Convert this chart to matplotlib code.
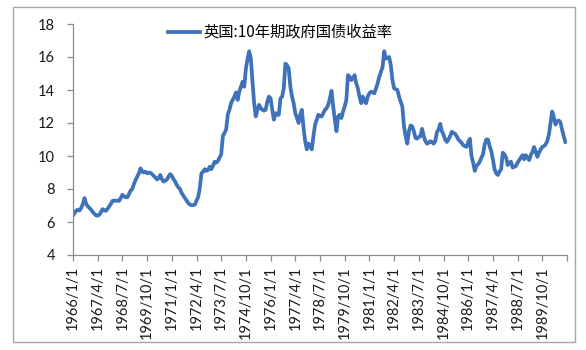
import matplotlib
matplotlib.use("Agg")
import matplotlib.pyplot as plt
from matplotlib.patches import Rectangle
import pandas as pd

plt.rcParams['font.family'] = ['Lato', 'Noto Sans CJK SC', 'DejaVu Sans']

series_name = '英国:10年期政府国债收益率'
start_month = '1966-01-01'

# monthly yields (%), one row per year
y1966 = [6.4, 6.55, 6.7, 6.75, 6.7, 6.85, 7.1, 7.45, 7.1, 6.95, 6.85, 6.75]
y1967 = [6.6, 6.5, 6.4, 6.38, 6.45, 6.6, 6.78, 6.7, 6.68, 6.8, 6.95, 7.1]
y1968 = [7.28, 7.3, 7.28, 7.3, 7.28, 7.45, 7.65, 7.55, 7.5, 7.5, 7.7, 7.9]
y1969 = [8.0, 8.3, 8.55, 8.75, 8.95, 9.25, 9.05, 9.0, 9.05, 8.95, 9.0, 8.98]
y1970 = [8.9, 8.8, 8.7, 8.58, 8.65, 8.85, 8.6, 8.45, 8.5, 8.58, 8.75, 8.9]
y1971 = [8.8, 8.6, 8.45, 8.25, 8.1, 8.0, 7.75, 7.6, 7.45, 7.3, 7.15, 7.05]
y1972 = [7.02, 7.03, 7.05, 7.3, 7.5, 8.05, 8.95, 9.05, 9.2, 9.1, 9.15, 9.35]
y1973 = [9.2, 9.4, 9.65, 9.6, 9.7, 9.9, 10.1, 11.2, 11.4, 11.6, 12.5, 12.8]
y1974 = [13.2, 13.4, 13.6, 13.85, 13.4, 13.9, 14.2, 14.5, 14.2, 15.3, 15.9, 16.35]
y1975 = [15.9, 14.5, 13.2, 12.4, 12.8, 13.1, 12.9, 12.8, 12.75, 12.8, 13.3, 13.6]
y1976 = [13.5, 12.8, 12.2, 12.6, 12.5, 12.5, 13.5, 13.6, 14.1, 15.6, 15.5, 15.3]
y1977 = [14.2, 13.6, 13.2, 12.6, 12.3, 12.0, 12.5, 12.8, 11.7, 10.9, 10.4, 10.75]
y1978 = [10.6, 10.4, 11.2, 11.9, 12.2, 12.5, 12.4, 12.4, 12.6, 12.8, 12.9, 13.1]
y1979 = [13.5, 13.95, 13.0, 12.2, 11.5, 12.4, 12.5, 12.3, 12.7, 13.0, 13.4, 14.9]
y1980 = [14.8, 14.6, 14.7, 14.9, 14.4, 14.1, 13.6, 13.2, 13.6, 13.3, 13.2, 13.6]
y1981 = [13.8, 13.9, 13.85, 13.8, 14.1, 14.4, 14.8, 15.1, 15.4, 16.35, 15.9, 15.95]
y1982 = [16.0, 15.5, 14.6, 14.1, 14.05, 14.0, 13.6, 13.3, 13.0, 11.8, 11.2, 10.75]
y1983 = [11.5, 11.85, 11.8, 11.5, 11.1, 11.05, 11.15, 11.2, 11.65, 11.2, 10.9, 10.75]
y1984 = [10.8, 10.9, 10.85, 10.75, 10.9, 11.45, 11.6, 11.95, 11.5, 11.3, 11.0, 10.85]
y1985 = [11.0, 11.2, 11.47, 11.4, 11.35, 11.2, 11.0, 10.9, 10.8, 10.65, 10.6, 10.55]
y1986 = [10.85, 11.05, 10.0, 9.6, 9.1, 9.4, 9.5, 9.65, 9.9, 10.1, 10.7, 11.0]
y1987 = [11.0, 10.6, 10.3, 9.8, 9.2, 8.95, 8.85, 9.05, 9.2, 10.2, 10.1, 9.9]
y1988 = [9.45, 9.6, 9.65, 9.3, 9.35, 9.4, 9.6, 9.75, 9.9, 10.05, 9.8, 10.05]
y1989 = [9.9, 9.75, 10.05, 10.25, 10.55, 10.25, 9.95, 10.2, 10.4, 10.55, 10.6, 10.7]
y1990 = [10.9, 11.3, 12.0, 12.7, 12.35, 11.9, 12.1, 12.15, 12.05, 11.6, 11.2, 10.85]

values = (y1966 + y1967 + y1968 + y1969 + y1970 + y1971 + y1972 + y1973
          + y1974 + y1975 + y1976 + y1977 + y1978 + y1979 + y1980 + y1981
          + y1982 + y1983 + y1984 + y1985 + y1986 + y1987 + y1988 + y1989 + y1990)
dates = pd.date_range(start_month, periods=len(values), freq='MS')
labels = [f'{d.year}/{d.month}/1' for d in dates]
label_step = 15

fig = plt.figure(figsize=(5.86, 3.5), dpi=100)
fig.patches.append(Rectangle((13 / 586, 1 - 342 / 350), 562 / 586, 335 / 350,
                             transform=fig.transFigure, fill=False,
                             edgecolor='#A6A6A6', linewidth=1.0))
ax = fig.add_axes([73 / 586, 1 - 255 / 350, 494 / 586, 231 / 350])

x = list(range(len(values)))
ax.plot(x, values, color='#3F72B8', linewidth=2.7, solid_joinstyle='round',
        label=series_name)

ax.set_xlim(0, len(values))
ax.set_ylim(4, 18)
ax.set_yticks(range(4, 19, 2))
ticks = list(range(0, len(values) + 1, label_step))
ax.set_xticks(ticks)
ax.set_xticklabels([labels[t] if t < len(labels) else '' for t in ticks],
                   rotation=90)

for side in ['top', 'right']:
    ax.spines[side].set_visible(False)
for side in ['left', 'bottom']:
    ax.spines[side].set_color('#8C8C8C')
    ax.spines[side].set_linewidth(0.9)
ax.tick_params(axis='both', colors='#8C8C8C', length=4, width=0.9,
               labelcolor='#1A1A1A', labelsize=10.5)
ax.tick_params(axis='x', pad=4)
ax.tick_params(axis='y', pad=9)

leg = ax.legend(loc='upper left', bbox_to_anchor=(0.165, 1.06), frameon=False,
                handlelength=2.1, handletextpad=0.2,
                prop={'family': ['Noto Sans CJK SC', 'DejaVu Sans'], 'size': 11})

fig.savefig('out.png', dpi=100)
